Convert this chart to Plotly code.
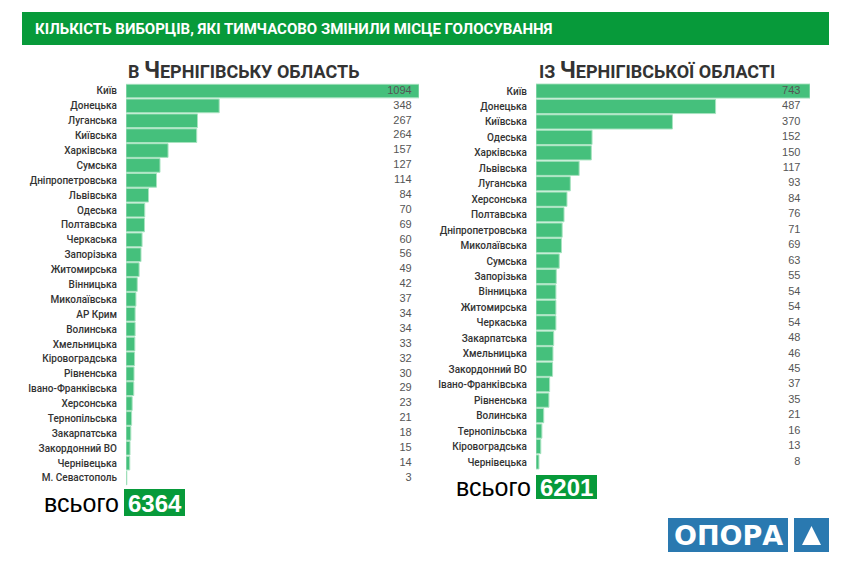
import plotly.graph_objects as go

W, H = 852, 564

# в Чернігівську область
in_regions = ["Київ", "Донецька", "Луганська", "Київська", "Харківська", "Сумська",
              "Дніпропетровська", "Львівська", "Одеська", "Полтавська", "Черкаська",
              "Запорізька", "Житомирська", "Вінницька", "Миколаївська", "АР Крим",
              "Волинська", "Хмельницька", "Кіровоградська", "Рівненська",
              "Івано-Франківська", "Херсонська", "Тернопільська", "Закарпатська",
              "Закордонний ВО", "Чернівецька", "М. Севастополь"]
in_values = [1094, 348, 267, 264, 157, 127, 114, 84, 70, 69, 60, 56, 49, 42, 37, 34,
             34, 33, 32, 30, 29, 23, 21, 18, 15, 14, 3]
in_total = 6364

# із Чернігівської області
out_regions = ["Київ", "Донецька", "Київська", "Одеська", "Харківська", "Львівська",
               "Луганська", "Херсонська", "Полтавська", "Дніпропетровська",
               "Миколаївська", "Сумська", "Запорізька", "Вінницька", "Житомирська",
               "Черкаська", "Закарпатська", "Хмельницька", "Закордонний ВО",
               "Івано-Франківська", "Рівненська", "Волинська", "Тернопільська",
               "Кіровоградська", "Чернівецька"]
out_values = [743, 487, 370, 152, 150, 117, 93, 84, 76, 71, 69, 63, 55, 54, 54, 54,
              48, 46, 45, 37, 35, 21, 16, 13, 8]
out_total = 6201

title = "КІЛЬКІСТЬ ВИБОРЦІВ, ЯКІ ТИМЧАСОВО ЗМІНИЛИ МІСЦЕ ГОЛОСУВАННЯ"

GREEN = "#079a3a"
BAR = "#45c07c"
BLUE = "#2a79b0"
LABEL_FONT = "Roboto"
NUM_FONT = "Liberation Sans"


def px(x):
    return x / W


def py(y):
    return 1 - y / H


fig = go.Figure()

# left panel
fig.add_trace(go.Bar(x=in_values, y=in_regions, orientation="h",
                     marker=dict(color=BAR, line=dict(color="#a8e3c0", width=1)),
                     xaxis="x", yaxis="y", hoverinfo="x+y"))
fig.add_trace(go.Scatter(x=[in_values[0] * 0.975] * len(in_values), y=in_regions,
                         mode="text", text=[str(v) for v in in_values],
                         textposition="middle left",
                         textfont=dict(family=NUM_FONT, size=11, color="#555"),
                         xaxis="x", yaxis="y", hoverinfo="skip"))

# right panel
fig.add_trace(go.Bar(x=out_values, y=out_regions, orientation="h",
                     marker=dict(color=BAR, line=dict(color="#a8e3c0", width=1)),
                     xaxis="x2", yaxis="y2", hoverinfo="x+y"))
fig.add_trace(go.Scatter(x=[out_values[0] * 0.965] * len(out_values), y=out_regions,
                         mode="text", text=[str(v) for v in out_values],
                         textposition="middle left",
                         textfont=dict(family=NUM_FONT, size=11, color="#555"),
                         xaxis="x2", yaxis="y2", hoverinfo="skip"))

row_l = (478 - 91) / (len(in_regions) - 1)
row_r = (462 - 91) / (len(out_regions) - 1)

common_x = dict(showgrid=False, zeroline=False, showticklabels=False, showline=False)
common_y = dict(showgrid=False, zeroline=False, showline=False,
                ticks="", ticklabelstandoff=8,
                tickfont=dict(family=LABEL_FONT, size=10, color="#333", weight=500))

fig.update_layout(
    width=W, height=H,
    margin=dict(l=0, r=0, t=0, b=0),
    plot_bgcolor="white", paper_bgcolor="white",
    showlegend=False, bargap=0.08,
    xaxis=dict(domain=[px(126), px(419)], range=[0, in_values[0]], **common_x),
    yaxis=dict(domain=[py(91 + row_l * (len(in_regions) - 0.5)), py(91 - row_l / 2)],
               range=[len(in_regions) - 0.5, -0.5], anchor="x", **common_y),
    xaxis2=dict(domain=[px(536), px(810)], range=[0, out_values[0]], anchor="y2", **common_x),
    yaxis2=dict(domain=[py(91 + row_r * (len(out_regions) - 0.5)), py(91 - row_r / 2)],
                range=[len(out_regions) - 0.5, -0.5], anchor="x2", **common_y),
)

shapes = [
    # title bar
    dict(type="rect", xref="paper", yref="paper", x0=px(22), x1=px(829), y0=py(45), y1=py(12),
         fillcolor=GREEN, line=dict(width=0), layer="below"),
    # totals
    dict(type="rect", xref="paper", yref="paper", x0=px(124), x1=px(185), y0=py(516), y1=py(489),
         fillcolor=GREEN, line=dict(width=0)),
    dict(type="rect", xref="paper", yref="paper", x0=px(536), x1=px(597), y0=py(499), y1=py(475),
         fillcolor=GREEN, line=dict(width=0)),
    # logo
    dict(type="rect", xref="paper", yref="paper", x0=px(668), x1=px(788), y0=py(552), y1=py(518),
         fillcolor=BLUE, line=dict(width=0)),
    dict(type="rect", xref="paper", yref="paper", x0=px(794), x1=px(829), y0=py(552), y1=py(518),
         fillcolor=BLUE, line=dict(width=0)),
    dict(type="path", xref="paper", yref="paper",
         path=f"M {px(802)} {py(545)} L {px(821)} {py(545)} L {px(811.5)} {py(526)} Z",
         fillcolor="white", line=dict(width=0)),
]
fig.update_layout(shapes=shapes)

annotations = [
    dict(x=px(33), y=py(29), text=title, xanchor="left", yanchor="middle",
         font=dict(family="Liberation Sans Narrow, Roboto", size=15, color="white", weight="bold")),
    dict(x=px(126), y=py(70),
         text="В <span style='font-size:23px'>Ч</span>ЕРНІГІВСЬКУ ОБЛАСТЬ",
         xanchor="left", yanchor="middle",
         font=dict(family="Liberation Sans Narrow, Roboto", size=18, color="#333", weight="bold")),
    dict(x=px(537), y=py(70),
         text="ІЗ <span style='font-size:23px'>Ч</span>ЕРНІГІВСЬКОЇ ОБЛАСТІ",
         xanchor="left", yanchor="middle",
         font=dict(family="Liberation Sans Narrow, Roboto", size=18, color="#333", weight="bold")),
    dict(x=px(121), y=py(503), text="всього", xanchor="right", yanchor="middle",
         font=dict(family="Liberation Sans", size=25, color="black")),
    dict(x=px(154.5), y=py(503), text=str(in_total), xanchor="center", yanchor="middle",
         font=dict(family="Liberation Sans", size=24, color="white", weight="bold")),
    dict(x=px(533), y=py(487), text="всього", xanchor="right", yanchor="middle",
         font=dict(family="Liberation Sans", size=25, color="black")),
    dict(x=px(566.5), y=py(487), text=str(out_total), xanchor="center", yanchor="middle",
         font=dict(family="Liberation Sans", size=24, color="white", weight="bold")),
    dict(x=px(728), y=py(535), text="ОПОРА", xanchor="center", yanchor="middle",
         font=dict(family="DejaVu Sans", size=27, color="white", weight="bold")),
]
for a in annotations:
    a.update(xref="paper", yref="paper", showarrow=False)
fig.update_layout(annotations=annotations)

# the page body has a default 8px margin; drop it so the figure sits at the window corner
fig.write_html("out.html", config={"displayModeBar": False},
               post_script="document.body.style.margin='0';")
